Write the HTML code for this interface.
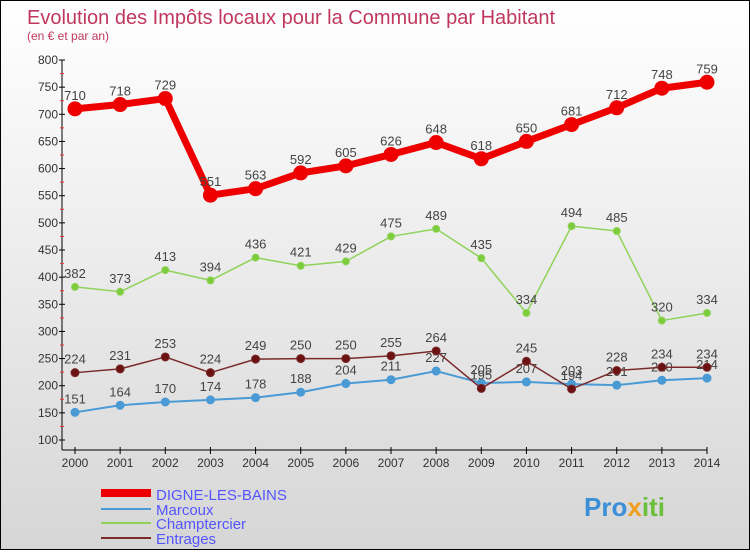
<!DOCTYPE html>
<html><head><meta charset="utf-8"><style>
body{margin:0;width:750px;height:550px;overflow:hidden;font-family:"Liberation Sans",sans-serif}
#wrap{position:relative;width:748px;height:548px;border:1px solid #000;background:linear-gradient(#fff 0%,#f3f3f3 30%,#d6d6d6 100%)}
</style></head><body>
<div id="wrap">
<svg id="svg" width="748" height="548" xmlns="http://www.w3.org/2000/svg">
<text x="26" y="23" font-size="20" fill="#c0385f">Evolution des Impôts locaux pour la Commune par Habitant</text>
<text x="26" y="39" font-size="12" fill="#c0385f">(en € et par an)</text>
<g id="axes"></g><g id="series"></g>
<g>
<line x1="100" y1="492" x2="150" y2="492" stroke="#e00" stroke-width="8"/>
<text x="155" y="499" font-size="15" fill="#55f">DIGNE-LES-BAINS</text>
<line x1="100" y1="508" x2="150" y2="508" stroke="#4a9ad6" stroke-width="2"/>
<text x="155" y="514" font-size="15" fill="#55f">Marcoux</text>
<line x1="100" y1="522" x2="150" y2="522" stroke="#8fd35a" stroke-width="2"/>
<text x="155" y="528" font-size="15" fill="#55f">Champtercier</text>
<line x1="100" y1="537" x2="150" y2="537" stroke="#7a2a2a" stroke-width="2"/>
<text x="155" y="543" font-size="15" fill="#55f">Entrages</text>
</g>
<text x="583" y="515" font-size="26" font-weight="bold" fill="#3b8fd6">Pro<tspan fill="#f0a020">x</tspan><tspan fill="#6bbf3a">iti</tspan></text>
</svg></div>
<script>
const years=[2000,2001,2002,2003,2004,2005,2006,2007,2008,2009,2010,2011,2012,2013,2014];
const yTicks=[100,150,200,250,300,350,400,450,500,550,600,650,700,750,800];
const digne=[710,718,729,551,563,592,605,626,648,618,650,681,712,748,759];
const marcoux=[151,164,170,174,178,188,204,211,227,205,207,203,201,210,214];
const champtercier=[382,373,413,394,436,421,429,475,489,435,334,494,485,320,334];
const entrages=[224,231,253,224,249,250,250,255,264,195,245,194,228,234,234];
const NS="http://www.w3.org/2000/svg";
const X=i=>74+i*(632/14);
const Y=v=>59+(800-v)*(380/700);
function mk(t,a,p){const e=document.createElementNS(NS,t);for(const k in a)e.setAttribute(k,a[k]);p.appendChild(e);return e;}
const ax=document.getElementById('axes'),se=document.getElementById('series');
let l=mk('line',{x1:61,y1:59,x2:61,y2:449,stroke:'#000'},ax);


l=mk('line',{x1:61,y1:449,x2:X(14),y2:449,stroke:'#000'},ax);


yTicks.forEach(v=>{
 mk('line',{x1:58,y1:Y(v),x2:64,y2:Y(v),stroke:'#000'},ax);
 if(v<800) mk('line',{x1:59,y1:Y(v+25),x2:63,y2:Y(v+25),stroke:'#e33'},ax);
 const t=mk('text',{x:57,y:Y(v)+4,'font-size':12,fill:'#333','text-anchor':'end'},ax);t.textContent=v;
 
 
});
years.forEach((y,i)=>{
 mk('line',{x1:X(i),y1:446,x2:X(i),y2:453,stroke:'#000'},ax);
 const t=mk('text',{x:X(i),y:466,'font-size':12,fill:'#333','text-anchor':'middle'},ax);t.textContent=y;
 
 
});
function series(d,name,color,w,r,fill){
 const g=mk('g',{},se);
 
 
 const p=mk('polyline',{points:d.map((v,i)=>X(i)+','+Y(v)).join(' '),fill:'none',stroke:color,'stroke-width':w,'stroke-linejoin':'round'},g);
 
 
 d.forEach((v,i)=>{
  const c=mk('circle',{cx:X(i),cy:Y(v),r:r,fill:fill,stroke:color,'stroke-width':1},g);
  
  
  const t=mk('text',{x:X(i),y:Y(v)-9,'font-size':13,fill:'#444','text-anchor':'middle'},g);t.textContent=v;
  
  
 });
}
series(marcoux,'marcoux','#4a9ad6',2,4,'#4a9ad6');
series(entrages,'entrages','#7a2a2a',1.5,4,'#6b1212');
series(champtercier,'champtercier','#8fd35a',1.5,3.5,'#7ccc3c');
series(digne,'digne','#ee0000',7,7,'#ee0000');
</script>
</body></html>
